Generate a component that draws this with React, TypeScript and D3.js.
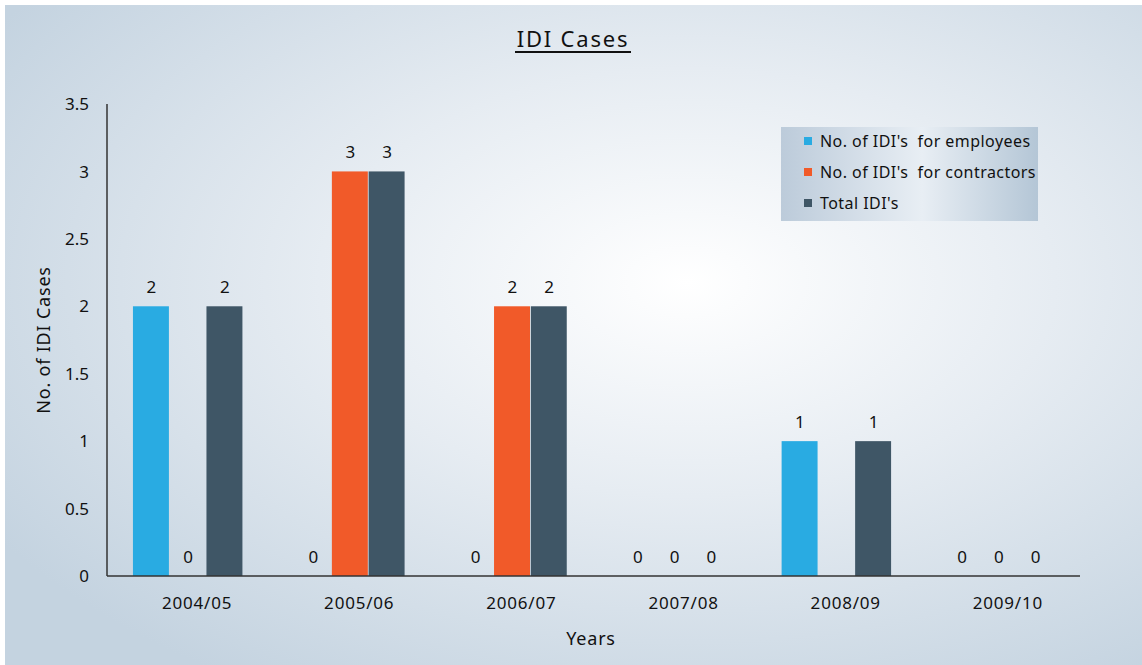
import React from "react";
import * as d3 from "d3";

const years = ["2004/05", "2005/06", "2006/07", "2007/08", "2008/09", "2009/10"];
const seriesNames = ["No. of IDI's  for employees", "No. of IDI's  for contractors", "Total IDI's"];
const employees = [2, 0, 0, 0, 1, 0];
const contractors: (number | null)[] = [0, 3, 2, 0, null, 0];
const totals = [2, 3, 2, 0, 1, 0];
const yTicks = [0, 0.5, 1, 1.5, 2, 2.5, 3, 3.5];
const colors = ["#29abe2", "#f15a29", "#3f5666"];

const W = 1142;
const H = 665;
const margin = { top: 104, right: 62, bottom: 89, left: 107 };
const font = "'Noto Sans', 'Open Sans', sans-serif";

export default function App() {
  const values = [employees, contractors, totals];

  const x = d3.scaleBand().domain(years).range([margin.left, W - margin.right]).paddingInner(0.32).paddingOuter(0.16);
  const x1 = d3.scaleBand().domain(seriesNames).range([0, x.bandwidth()]);
  const y = d3.scaleLinear().domain([0, 3.5]).range([H - margin.bottom, margin.top]);

  return (
    <svg width={W} height={H} style={{ position: "absolute", left: 0, top: 0 }} fontFamily={font}>
      <defs>
        <radialGradient id="bg" cx="0.6" cy="0.42" r="0.72">
          <stop offset="0" stopColor="#ffffff" />
          <stop offset="0.45" stopColor="#e6ecf2" />
          <stop offset="1" stopColor="#c4d3e0" />
        </radialGradient>
        <linearGradient id="leg" x1="0" x2="1" y1="0" y2="0">
          <stop offset="0" stopColor="#bccbda" />
          <stop offset="0.55" stopColor="#e8eef4" />
          <stop offset="1" stopColor="#b4c6d6" />
        </linearGradient>
      </defs>
      <rect x={0} y={0} width={W} height={H} fill="#ffffff" />
      <rect x={5} y={5} width={W - 5} height={H - 5} fill="url(#bg)" />

      {/* title */}
      <text x={573} y={47} textAnchor="middle" fontSize={22} letterSpacing={1.8} fill="#111">IDI Cases</text>
      <line x1={515} x2={631} y1={52} y2={52} stroke="#111" strokeWidth={2} />

      {/* y ticks */}
      {yTicks.map(t => (
        <text key={t} x={89} y={y(t)} dy="0.36em" textAnchor="end" fontSize={17} fill="#111">{t}</text>
      ))}

      {/* bars */}
      {years.map((yr, i) => (
        <g key={yr} transform={`translate(${x(yr)},0)`}>
          {seriesNames.map((s, j) => {
            const v = values[j][i];
            if (v === null) return null;
            const bx = x1(s)!;
            return (
              <g key={s}>
                {v > 0 && (
                  <rect x={bx} y={y(v)} width={x1.bandwidth() - 0.8} height={y(0) - y(v)} fill={colors[j]} />
                )}
                <text x={bx + x1.bandwidth() / 2} y={y(v) - 13} textAnchor="middle" fontSize={17} fill="#111">{v}</text>
              </g>
            );
          })}
        </g>
      ))}

      {/* axes */}
      <line x1={margin.left} x2={margin.left} y1={margin.top} y2={y(0)} stroke="#333" strokeWidth={1.5} />
      <line x1={margin.left} x2={W - margin.right} y1={y(0)} y2={y(0)} stroke="#333" strokeWidth={1.5} />

      {/* x labels */}
      {years.map(yr => (
        <text key={yr} x={x(yr)! + x.bandwidth() / 2 + 9} y={609} textAnchor="middle" fontSize={17} letterSpacing={0.8} fill="#111">{yr}</text>
      ))}

      <text x={591} y={645} textAnchor="middle" fontSize={18} letterSpacing={0.8} fill="#111">Years</text>
      <text transform="translate(50,340) rotate(-90)" textAnchor="middle" fontSize={18} letterSpacing={0.8} fill="#111">No. of IDI Cases</text>

      {/* legend */}
      <rect x={781} y={127} width={257} height={94} fill="url(#leg)" />
      {seriesNames.map((s, j) => (
        <g key={s} transform={`translate(804,${141 + j * 31})`}>
          <rect x={0} y={-4} width={8} height={8} fill={colors[j]} />
          <text x={16} y={0} dy="0.36em" fontSize={16} letterSpacing={0.45} fill="#111" style={{ whiteSpace: "pre" }}>{s}</text>
        </g>
      ))}
    </svg>
  );
}
